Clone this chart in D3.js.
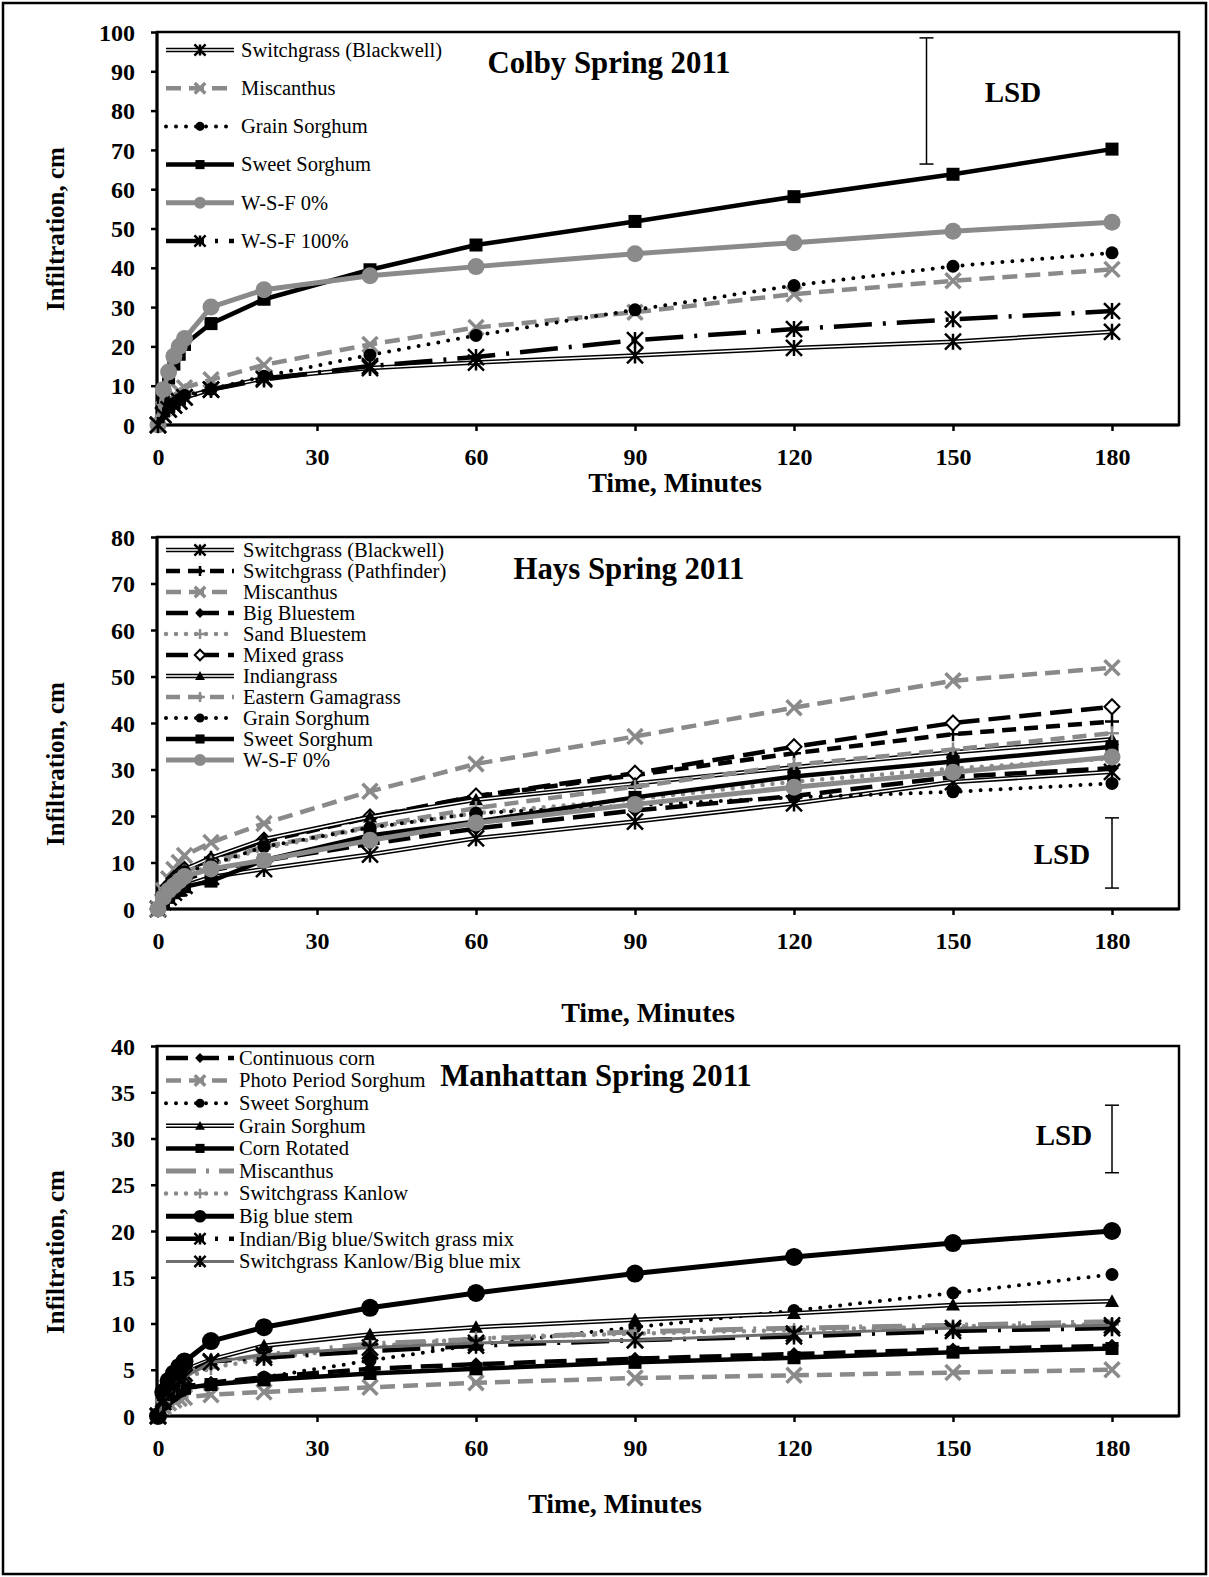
<!DOCTYPE html>
<html lang="en">
<head>
<meta charset="utf-8">
<title>Infiltration Spring 2011</title>
<script src="https://d3js.org/d3.v7.min.js"></script>
<style>
  body { margin: 0; background: #fff; }
  svg text { font-family: "Liberation Serif", "Times New Roman", serif; fill: #000; }
</style>
</head>
<body>
<script>
// time of each reading, minutes
var timesMin = [0, 1, 2, 3, 4, 5, 10, 20, 40, 60, 90, 120, 150, 180];
var xTicks = [0, 30, 60, 90, 120, 150, 180];

// Colby Spring 2011 (cm)
var colbySwitchBlackwell = [0, 2.5, 4, 5, 6, 7, 9, 11.9, 14.5, 15.9, 17.7, 19.6, 21.2, 23.7];
var colbyMiscanthus      = [0, 4, 6, 7.5, 8.5, 9.5, 11.5, 15.3, 20.5, 24.8, 28.7, 33.3, 36.7, 39.6];
var colbyGrainSorghum    = [0, 3, 4.5, 5.5, 6.5, 7.5, 9.1, 12.4, 17.8, 22.8, 29.3, 35.5, 40.4, 43.8];
var colbySweetSorghum    = [0, 7, 12, 15.5, 18, 20.5, 25.8, 32, 39.5, 45.8, 51.8, 58.1, 63.8, 70.2];
var colbyWSF0            = [0, 9, 13.5, 17.5, 20, 22, 30, 34.4, 38, 40.3, 43.6, 46.4, 49.3, 51.6];
var colbyWSF100          = [0, 2.5, 4, 5, 6, 7, 9, 11.6, 15, 17.3, 21.6, 24.4, 26.9, 29];
var colbyNames = ["Switchgrass (Blackwell)", "Miscanthus", "Grain Sorghum", "Sweet Sorghum", "W-S-F 0%", "W-S-F 100%"];
var colbyLsd = [145, 66.4, 98.5];   // time, low, high

// Hays Spring 2011 (cm)
var haysSwitchBlackwell  = [0, 1.5, 2.5, 3.5, 4.5, 5, 6.9, 8.6, 11.7, 15.2, 18.8, 22.7, 27.3, 29.5];
var haysSwitchPathfinder = [0, 3, 5, 6.5, 7.5, 8.5, 11, 14.5, 19.7, 24.2, 28.8, 33.5, 37.6, 40.3];
var haysMiscanthus       = [0, 4, 6.5, 8.5, 10, 11.5, 14.3, 18.4, 25.3, 31.2, 37.1, 43.3, 49.1, 51.9];
var haysBigBluestem      = [0, 2, 3.5, 4.5, 5.5, 6.3, 8.3, 10.4, 14, 17.3, 21.2, 24.3, 28.4, 30.3];
var haysSandBluestem     = [0, 2.5, 4, 5, 6, 7, 9.5, 13, 17.5, 20.6, 23.6, 27.4, 30.2, 32.4];
var haysMixedGrass       = [0, 3, 5, 6.5, 7.5, 8.5, 10.5, 14.8, 19.8, 24.3, 29.2, 34.9, 40, 43.5];
var haysIndiangrass      = [0, 3, 5, 6.5, 7.5, 8.5, 11, 15, 19.8, 23.5, 27, 30.5, 33.7, 36.5];
var haysGamagrass        = [0, 2.5, 4.5, 6, 7, 8, 10, 13.4, 17.7, 21.7, 26.3, 31, 34.3, 37.8];
var haysGrainSorghum     = [0, 3, 5, 6, 7, 8, 9.5, 13.4, 17.5, 20.6, 22.3, 24, 25.2, 27];
var haysSweetSorghum     = [0, 1.5, 2.5, 3.5, 4, 4.8, 6, 10.5, 15.8, 18.8, 24, 28.5, 31.7, 34.9];
var haysWSF0             = [0, 2.5, 4, 5, 6, 7, 8.6, 10.5, 14.8, 18.5, 22.5, 26.2, 29.4, 32.7];
var haysNames = ["Switchgrass (Blackwell)", "Switchgrass (Pathfinder)", "Miscanthus", "Big Bluestem", "Sand Bluestem",
                 "Mixed grass", "Indiangrass", "Eastern Gamagrass", "Grain Sorghum", "Sweet Sorghum", "W-S-F 0%"];
var haysLsd = [180, 4.5, 19.6];

// Manhattan Spring 2011 (cm)
var manContinuousCorn  = [0, 1.5, 2.2, 2.7, 3.0, 3.2, 3.6, 4.2, 5.1, 5.6, 6.2, 6.7, 7.2, 7.6];
var manPhotoPeriod     = [0, 1, 1.4, 1.7, 1.9, 2.0, 2.3, 2.6, 3.1, 3.6, 4.1, 4.4, 4.7, 5.0];
var manSweetSorghum    = [0, 1.2, 1.8, 2.2, 2.6, 2.9, 3.4, 4.2, 6.0, 7.7, 9.6, 11.4, 13.3, 15.3];
var manGrainSorghum    = [0, 2, 3, 3.8, 4.4, 5, 6.1, 7.6, 8.8, 9.6, 10.4, 11.1, 12.0, 12.4];
var manCornRotated     = [0, 1.4, 2.1, 2.5, 2.8, 3.0, 3.4, 3.9, 4.6, 5.1, 5.8, 6.3, 6.9, 7.3];
var manMiscanthus      = [0, 1.8, 2.8, 3.5, 4.0, 4.5, 5.7, 6.6, 7.8, 8.3, 9.1, 9.5, 9.8, 10.2];
var manSwitchKanlow    = [0, 1.5, 2.4, 3.0, 3.5, 4.0, 5.2, 6.2, 7.5, 8.4, 8.9, 9.3, 9.7, 9.9];
var manBigBlueStem     = [0, 2.6, 3.8, 4.6, 5.3, 5.9, 8.1, 9.6, 11.7, 13.3, 15.4, 17.2, 18.7, 20.0];
var manIndianMix       = [0, 1.8, 2.8, 3.5, 4.1, 4.6, 5.9, 6.3, 7.0, 7.6, 8.2, 8.6, 9.2, 9.5];
var manKanlowBigBlue   = [0, 1.5, 2.5, 3.2, 3.8, 4.2, 5.8, 6.6, 7.4, 7.9, 8.2, 8.9, 9.5, 9.8];
var manNames = ["Continuous corn", "Photo Period Sorghum", "Sweet Sorghum", "Grain Sorghum", "Corn Rotated",
                "Miscanthus", "Switchgrass Kanlow", "Big blue stem", "Indian/Big blue/Switch grass mix",
                "Switchgrass Kanlow/Big blue mix"];
var manLsd = [180, 26.3, 33.6];

var GRAY = "#8a8a8a";

// line looks, picked per series below
var looks = {
  dblStar:      { stroke: "#000", width: 4.5, inner: 1.5, marker: "star", mColor: "#000", m: 8 },
  dblTri:       { stroke: "#000", width: 4.5, inner: 1.5, marker: "triangle", mColor: "#000", m: 7 },
  grayDashX:    { stroke: GRAY, width: 4.5, dash: "15 8", marker: "x", mColor: GRAY, m: 7.5 },
  dotCircle:    { stroke: "#000", width: 4, dash: "0 10", cap: "round", marker: "circle", mColor: "#000", m: 6.5 },
  blackSquare:  { stroke: "#000", width: 4.5, marker: "square", mColor: "#000", m: 6.5 },
  grayCircle:   { stroke: GRAY, width: 5, marker: "circle", mColor: GRAY, m: 8.5 },
  dashDotStar:  { stroke: "#000", width: 4.5, dash: "38 11 3 11", marker: "star", mColor: "#000", m: 8 },
  dashPlus:     { stroke: "#000", width: 4.5, dash: "14 8", marker: "plus", mColor: "#000", m: 7 },
  longDiamond:  { stroke: "#000", width: 4.5, dash: "22 9", marker: "diamond", mColor: "#000", m: 7 },
  grayDotPlus:  { stroke: GRAY, width: 4.5, dash: "0 10", cap: "round", marker: "plus", mColor: GRAY, m: 7 },
  longOpenDiam: { stroke: "#000", width: 4.5, dash: "22 9", marker: "diamond", mColor: "#000", open: true, m: 7.5 },
  grayDashPlus: { stroke: GRAY, width: 4.5, dash: "14 8", marker: "plus", mColor: GRAY, m: 7 },
  grayDashDot:  { stroke: GRAY, width: 5, dash: "30 10 3 10", marker: null },
  blackBigCirc: { stroke: "#000", width: 5, marker: "circle", mColor: "#000", m: 9 },
  grayLineStar: { stroke: "#6e6e6e", width: 3, marker: "star", mColor: "#000", m: 8 }
};

var panels = [
  { names: colbyNames, look: ["dblStar", "grayDashX", "dotCircle", "blackSquare", "grayCircle", "dashDotStar"],
    values: [colbySwitchBlackwell, colbyMiscanthus, colbyGrainSorghum, colbySweetSorghum, colbyWSF0, colbyWSF100],
    yMax: 100, yStep: 10, top: 32, base: 425, title: "Colby Spring 2011", titleX: 609, titleY: 62,
    xTitleX: 675, xTitleY: 482, yTitleY: 229, lsd: colbyLsd, lsdX: 1013, lsdY: 92,
    legY: 50, legStep: 38.2, legTextX: 241 },
  { names: haysNames, look: ["dblStar", "dashPlus", "grayDashX", "longDiamond", "grayDotPlus", "longOpenDiam",
                             "dblTri", "grayDashPlus", "dotCircle", "blackSquare", "grayCircle"],
    values: [haysSwitchBlackwell, haysSwitchPathfinder, haysMiscanthus, haysBigBluestem, haysSandBluestem,
             haysMixedGrass, haysIndiangrass, haysGamagrass, haysGrainSorghum, haysSweetSorghum, haysWSF0],
    yMax: 80, yStep: 10, top: 537, base: 909, title: "Hays Spring 2011", titleX: 629, titleY: 568,
    xTitleX: 648, xTitleY: 1012, yTitleY: 764, lsd: haysLsd, lsdX: 1062, lsdY: 854,
    legY: 550, legStep: 21, legTextX: 243 },
  { names: manNames, look: ["longDiamond", "grayDashX", "dotCircle", "dblTri", "blackSquare", "grayDashDot",
                            "grayDotPlus", "blackBigCirc", "dashDotStar", "grayLineStar"],
    values: [manContinuousCorn, manPhotoPeriod, manSweetSorghum, manGrainSorghum, manCornRotated, manMiscanthus,
             manSwitchKanlow, manBigBlueStem, manIndianMix, manKanlowBigBlue],
    yMax: 40, yStep: 5, top: 1046, base: 1416, title: "Manhattan Spring 2011", titleX: 596, titleY: 1075,
    xTitleX: 615, xTitleY: 1503, yTitleY: 1252, lsd: manLsd, lsdX: 1064, lsdY: 1135,
    legY: 1058, legStep: 22.6, legTextX: 239 }
];

var W = 1209, H = 1577;
var plotLeft = 157, plotRight = 1179;

var svg = d3.select("body").append("svg")
    .attr("width", W).attr("height", H);

// outer frame
svg.append("rect")
    .attr("x", 3).attr("y", 3).attr("width", W - 6).attr("height", H - 6)
    .attr("fill", "none").attr("stroke", "#000").attr("stroke-width", 2.5);

var x = d3.scaleLinear().domain([0, 180]).range([158, 1112]);

function drawMarker(g, type, cx, cy, s, color, open) {
  if (!type) return;
  if (type == "circle") {
    g.append("circle").attr("cx", cx).attr("cy", cy).attr("r", s).attr("fill", color);
  } else if (type == "square") {
    g.append("rect").attr("x", cx - s).attr("y", cy - s).attr("width", 2 * s).attr("height", 2 * s).attr("fill", color);
  } else if (type == "diamond") {
    g.append("path").attr("d", "M" + cx + "," + (cy - s) + "L" + (cx + s) + "," + cy + "L" + cx + "," + (cy + s) + "L" + (cx - s) + "," + cy + "Z")
      .attr("fill", open ? "#fff" : color).attr("stroke", color).attr("stroke-width", open ? 2 : 0);
  } else if (type == "triangle") {
    g.append("path").attr("d", "M" + cx + "," + (cy - s) + "L" + (cx + s) + "," + (cy + s * 0.8) + "L" + (cx - s) + "," + (cy + s * 0.8) + "Z")
      .attr("fill", color);
  } else {
    var d = "";
    if (type == "x" || type == "star") d += "M" + (cx - s) + "," + (cy - s) + "L" + (cx + s) + "," + (cy + s) + "M" + (cx - s) + "," + (cy + s) + "L" + (cx + s) + "," + (cy - s);
    if (type == "star") d += "M" + cx + "," + (cy - s) + "L" + cx + "," + (cy + s);
    if (type == "plus") d += "M" + (cx - s) + "," + cy + "L" + (cx + s) + "," + cy + "M" + cx + "," + (cy - s) + "L" + cx + "," + (cy + s);
    g.append("path").attr("d", d).attr("fill", "none").attr("stroke", color)
      .attr("stroke-width", type == "x" ? 3.5 : 2.5);
  }
}

function strokeLine(g, d, lk) {
  g.append("path").attr("d", d).attr("fill", "none")
    .attr("stroke", lk.stroke).attr("stroke-width", lk.width)
    .attr("stroke-dasharray", lk.dash || null)
    .attr("stroke-linecap", lk.cap || "butt")
    .attr("stroke-linejoin", "round");
  if (lk.inner) {
    g.append("path").attr("d", d).attr("fill", "none")
      .attr("stroke", "#fff").attr("stroke-width", lk.inner).attr("stroke-linejoin", "round");
  }
}

panels.forEach(function(p) {
  var y = d3.scaleLinear().domain([0, p.yMax]).range([p.base, p.top]);
  var g = svg.append("g");

  // plot box
  g.append("rect")
    .attr("x", plotLeft).attr("y", p.top).attr("width", plotRight - plotLeft).attr("height", p.base - p.top)
    .attr("fill", "none").attr("stroke", "#000").attr("stroke-width", 2.5);

  var yAxis = d3.axisLeft(y).tickValues(d3.range(0, p.yMax + 0.1, p.yStep))
    .tickSize(6).tickPadding(16).tickFormat(d3.format("d"));
  var ya = g.append("g").attr("transform", "translate(" + plotLeft + ",0)").call(yAxis);
  var xAxis = d3.axisBottom(x).tickValues(xTicks).tickSize(6).tickPadding(17);
  var xa = g.append("g").attr("transform", "translate(0," + p.base + ")").call(xAxis);
  [ya, xa].forEach(function(a) {
    a.select(".domain").remove();
    a.selectAll(".tick line").attr("stroke", "#000").attr("stroke-width", 2.5);
    a.selectAll("text").attr("font-size", 24).attr("font-weight", "bold")
      .attr("font-family", "Liberation Serif, serif");
  });
  ya.selectAll("text").attr("dy", "0.34em");
  // axis lines on top of the box
  g.append("line").attr("x1", plotLeft).attr("x2", plotLeft).attr("y1", p.top).attr("y2", p.base)
    .attr("stroke", "#000").attr("stroke-width", 3);
  g.append("line").attr("x1", plotLeft).attr("x2", plotRight).attr("y1", p.base).attr("y2", p.base)
    .attr("stroke", "#000").attr("stroke-width", 3);

  // series
  var line = d3.line().x(function(d) { return x(d[0]); }).y(function(d) { return y(d[1]); });
  p.values.forEach(function(vals, i) {
    var lk = looks[p.look[i]];
    var pts = timesMin.map(function(t, j) { return [t, vals[j]]; });
    var sg = g.append("g");
    strokeLine(sg, line(pts), lk);
    pts.forEach(function(pt) {
      drawMarker(sg, lk.marker, x(pt[0]), y(pt[1]), lk.m, lk.mColor, lk.open);
    });
  });

  // legend
  p.names.forEach(function(name, i) {
    var lk = looks[p.look[i]];
    var ly = p.legY + i * p.legStep;
    var lg = g.append("g");
    strokeLine(lg, "M166," + ly + "L234," + ly, lk);
    drawMarker(lg, lk.marker, 200, ly, lk.m * 0.7, lk.mColor, lk.open);
    lg.append("text").attr("x", p.legTextX).attr("y", ly).attr("dy", "0.33em")
      .attr("font-size", 20.5).text(name);
  });

  // LSD bar
  var lx = x(p.lsd[0]);
  var lsd = g.append("g").attr("stroke", "#000").attr("stroke-width", 1.5);
  lsd.append("line").attr("x1", lx).attr("x2", lx).attr("y1", y(p.lsd[1])).attr("y2", y(p.lsd[2]));
  lsd.append("line").attr("x1", lx - 7).attr("x2", lx + 7).attr("y1", y(p.lsd[1])).attr("y2", y(p.lsd[1]));
  lsd.append("line").attr("x1", lx - 7).attr("x2", lx + 7).attr("y1", y(p.lsd[2])).attr("y2", y(p.lsd[2]));
  g.append("text").attr("x", p.lsdX).attr("y", p.lsdY).attr("dy", "0.35em").attr("text-anchor", "middle")
    .attr("font-size", 29).attr("font-weight", "bold").text("LSD");

  // titles
  g.append("text").attr("x", p.titleX).attr("y", p.titleY).attr("dy", "0.35em").attr("text-anchor", "middle")
    .attr("font-size", 30.8).attr("font-weight", "bold").text(p.title);
  g.append("text").attr("x", p.xTitleX).attr("y", p.xTitleY).attr("dy", "0.35em").attr("text-anchor", "middle")
    .attr("font-size", 28).attr("font-weight", "bold").text("Time, Minutes");
  g.append("text").attr("transform", "translate(55," + p.yTitleY + ") rotate(-90)")
    .attr("dy", "0.35em").attr("text-anchor", "middle")
    .attr("font-size", 25).attr("font-weight", "bold").text("Infiltration, cm");
});
</script>
</body>
</html>
